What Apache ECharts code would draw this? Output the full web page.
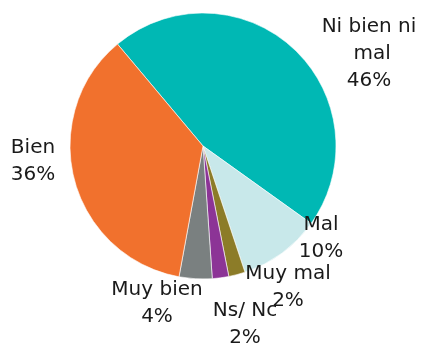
<!DOCTYPE html>
<html>
<head>
<meta charset="utf-8">
<script src="https://cdn.jsdelivr.net/npm/echarts@6/dist/echarts.min.js"></script>
<style>
  html, body { margin: 0; padding: 0; background: #fff; }
  #chart { width: 421px; height: 347px; }
</style>
</head>
<body>
<div id="chart"></div>
<script>
// Survey answers and their shares (percent)
const categories = ['Ni bien ni mal', 'Mal', 'Muy mal', 'Ns/ Nc', 'Muy bien', 'Bien'];
const shares = [46, 10, 2, 2, 4, 36];
const sliceColors = ['#00b8b4', '#c8e8ea', '#8c7c28', '#8c3496', '#7a8080', '#f1712d'];

// Where each label block is centred (px), in category order
const labelSpots = [[369, 54], [321, 238], [288, 287], [245, 324], [157, 303], [33, 161]];

const chart = echarts.init(document.getElementById('chart'), null, { renderer: 'canvas' });

chart.setOption({
  animation: false,
  series: [{
    type: 'pie',
    center: [203, 146],
    radius: 133,
    startAngle: 130,
    clockwise: true,
    avoidLabelOverlap: false,
    itemStyle: { borderColor: '#ffffff', borderWidth: 0.6 },
    label: {
      show: true,
      position: 'outside',
      formatter: '{b}\n{d}%',
      fontFamily: 'DejaVu Sans',
      fontSize: 20,
      lineHeight: 27,
      color: '#1a1a1a',
      align: 'center',
      width: 100,
      overflow: 'break'
    },
    labelLine: { show: false },
    labelLayout: function (p) {
      const s = labelSpots[p.dataIndex];
      return { x: s[0], y: s[1], align: 'center', verticalAlign: 'middle' };
    },
    emphasis: { disabled: true },
    data: categories.map((c, i) => ({
      name: c,
      value: shares[i],
      itemStyle: { color: sliceColors[i] }
    }))
  }]
});
</script>
</body>
</html>
